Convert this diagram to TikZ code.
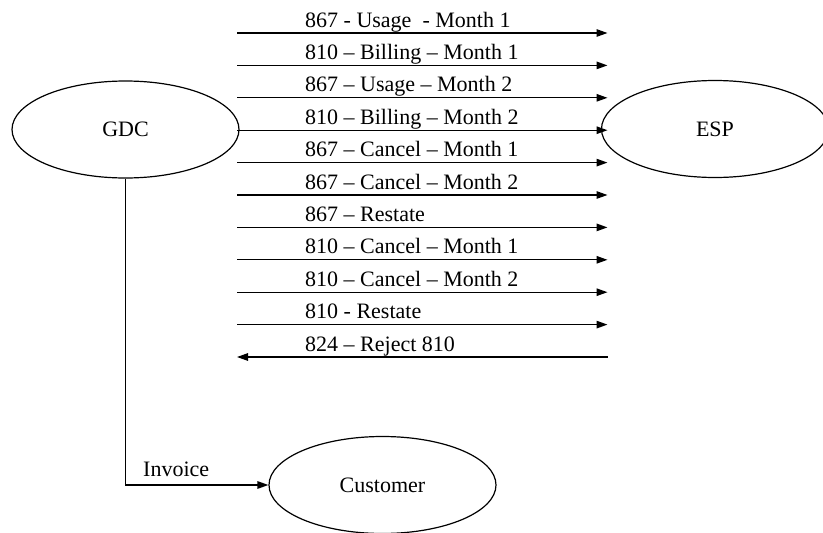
\documentclass[tikz,border=0pt]{standalone}
\usepackage{fontspec}
\setmainfont{Liberation Serif}
\usetikzlibrary{shapes.geometric,arrows.meta}

\begin{document}
\begin{tikzpicture}[x=1pt,y=1pt,
  font=\fontsize{22}{24}\selectfont,
  party/.style={draw, ellipse, line width=1.2pt, minimum width=227pt,
                minimum height=97pt, inner sep=0pt},
  msg/.style={line width=1.3pt, -{Triangle[length=11pt,width=7.5pt]}},
  msglabel/.style={anchor=base west, inner sep=0pt}]
  \useasboundingbox (0,0) rectangle (823,-533);

  % the three parties
  \node[party] (gdc)  at (125.5,-129.5) {GDC};
  \node[party] (esp)  at (715,-129)     {ESP};
  \node[party] (cust) at (382.5,-485)   {Customer};

  % message flow between GDC and ESP
  \foreach \i/\txt/\dir in {
      0/{867 - Usage\ \ - Month 1}/1,
      1/{810 – Billing – Month 1}/1,
      2/{867 – Usage – Month 2}/1,
      3/{810 – Billing – Month 2}/1,
      4/{867 – Cancel – Month 1}/1,
      5/{867 – Cancel – Month 2}/1,
      6/{867 – Restate}/1,
      7/{810 – Cancel – Month 1}/1,
      8/{810 – Cancel – Month 2}/1,
      9/{810 - Restate}/1,
      10/{824 – Reject 810}/0}{
    \pgfmathsetmacro{\yy}{-33-32.4*\i}
    \coordinate (l\i) at (237,\yy);
    \coordinate (r\i) at (607.5,\yy);
    \node[msglabel] (m\i) at (305,\yy+6) {\txt};
    \ifnum\dir=1
      \draw[msg] (l\i) -- (r\i);
    \else
      \draw[msg] (r\i) -- (l\i);
    \fi
  }

  % invoice to the customer
  \draw[msg] (gdc.south) |- (cust.west);
  \node[msglabel] (inv) at (143,-476) {Invoice};
\end{tikzpicture}
\end{document}
